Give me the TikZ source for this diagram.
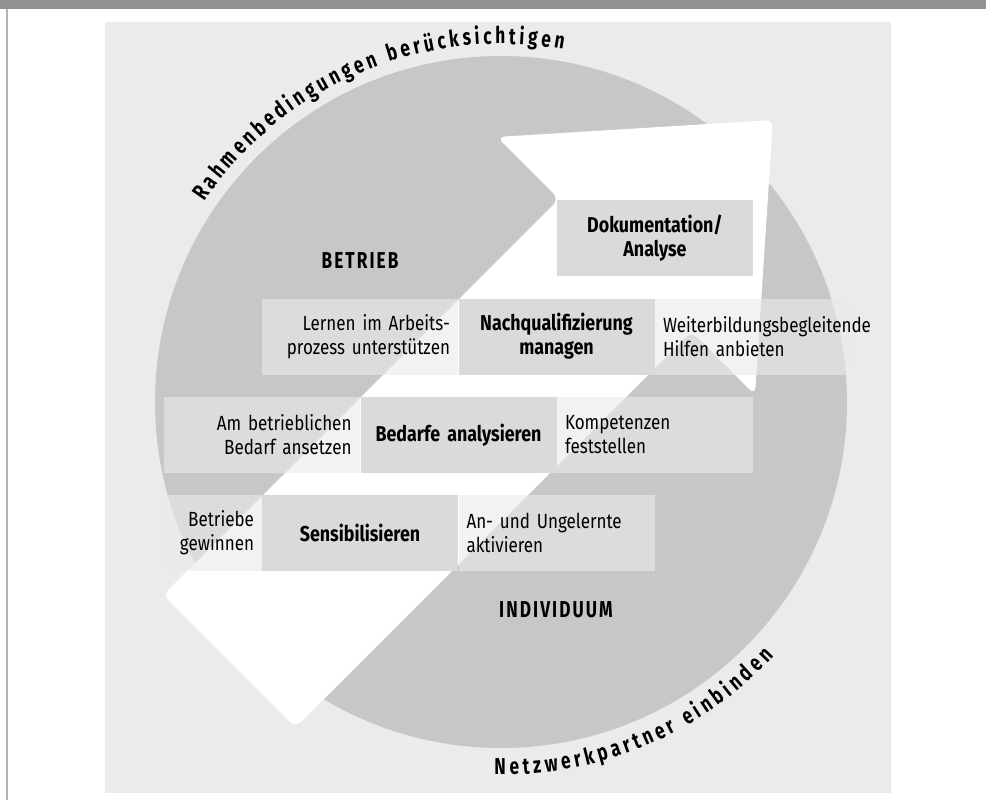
\documentclass[tikz,border=0pt]{standalone}
\usepackage{fontspec}
\setmainfont{Fira Sans}[FakeStretch=0.83]
\newfontfamily\condfont{Fira Sans}[FakeStretch=0.75]
\newfontfamily\condspaced{Fira Sans}[FakeStretch=0.75, LetterSpace=9]
\usetikzlibrary{decorations.text}
\definecolor{barcol}{HTML}{919191}
\definecolor{linecol}{HTML}{B3B3B3}
\definecolor{bgcol}{HTML}{EBEBEB}
\definecolor{disccol}{HTML}{C6C7C6}
\definecolor{midcol}{HTML}{D9DAD9}
\definecolor{sidecol}{HTML}{EAEAEA}
\newcommand\myarcfont{\condfont\fontsize{23}{26}\selectfont\bfseries}
\tikzset{
  cell/.style={minimum height=76pt, inner xsep=8pt, inner ysep=0pt,
    font=\fontsize{20.5}{24}\selectfont},
  sidecell/.style={cell, fill=sidecol, fill opacity=0.6, text opacity=1},
  leftcell/.style={sidecell, align=right, text width=180pt},
  rightcell/.style={sidecell, align=left, text width=180pt},
  midcell/.style={cell, fill=midcol, align=center, text width=180pt,
    font=\fontsize{21.5}{24}\selectfont\bfseries},
  biglabel/.style={inner sep=0pt,
    font=\condspaced\fontsize{23}{26}\selectfont\bfseries},
}
\begin{document}
\begin{tikzpicture}[x=1pt,y=1pt]
\useasboundingbox (0,0) rectangle (986,-800);
% frame
\fill[barcol] (0,0) rectangle (986,-9);
\fill[linecol] (6,-9) rectangle (8,-800);
\fill[bgcol] (105,-22) rectangle (891,-793);
% disc
\fill[disccol] (501,-402) circle (346);
% arrow
\fill[white, rounded corners=8pt] (229.25,-661.25) -- (163,-595) -- (559,-199) -- (497,-137)
  -- (773,-120) -- (755,-395) -- (691.5,-331.5) -- (295.5,-727.5) -- cycle;
% row 1
\node[leftcell]  (l1) at (360,-336.5) {Lernen im Arbeits-\\prozess unterstützen};
\node[midcell]   (m1) at (556.5,-336.5) {Nachqualifizierung\\managen};
\node[rightcell] (r1) at (753,-336.5) {Weiterbildungsbegleitende\\Hilfen anbieten};
% row 2
\node[leftcell]  (l2) at (261.5,-435) {Am betrieblichen\\Bedarf ansetzen};
\node[midcell]   (m2) at (458.5,-435) {Bedarfe analysieren};
\node[rightcell] (r2) at (655,-435) {Kompetenzen\\feststellen};
% row 3
\node[leftcell, text width=83pt] (l3) at (212.5,-533) {Betriebe\\gewinnen};
\node[midcell]   (m3) at (360,-533) {Sensibilisieren};
\node[rightcell] (r3) at (556.5,-533) {An- und Ungelernte\\aktivieren};
% top box
\node[midcell]   (doc) at (655,-238) {Dokumentation/\\Analyse};
% labels
\node[biglabel] (betrieb) at (360,-261) {BETRIEB};
\node[biglabel] (indiv) at (556,-609.5) {INDIVIDUUM};
% arc texts
\path[decorate, decoration={text along path, text align={fit to path},
  text={|\myarcfont|Rahmenbedingungen berücksichtigen}}]
  (501,-402) ++(146:358) arc[start angle=146, end angle=80, radius=358];
\path[decorate, decoration={text along path, text align={fit to path},
  text={|\myarcfont|Netzwerkpartner einbinden}}]
  (501,-402) ++(-91:373) arc[start angle=-91, end angle=-43, radius=373];
\end{tikzpicture}
\end{document}
